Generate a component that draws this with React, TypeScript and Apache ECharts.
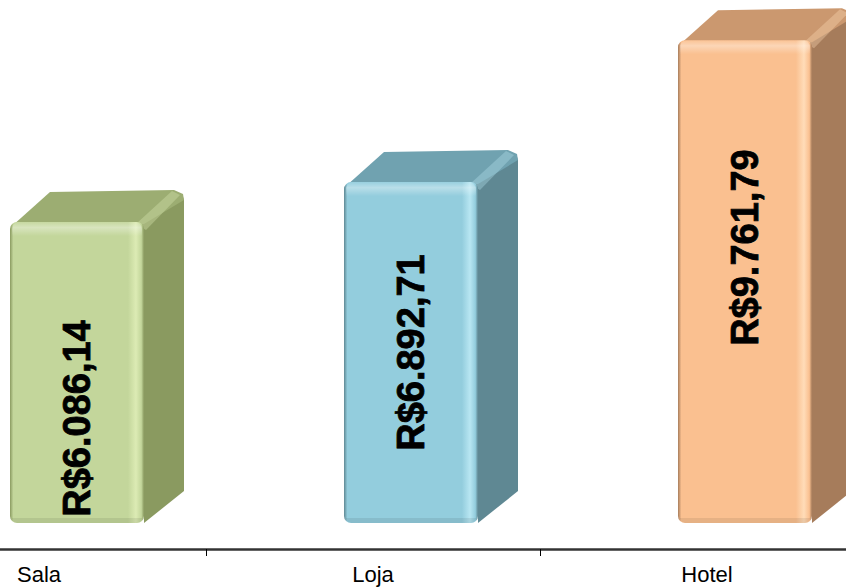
import React, { useEffect, useRef } from "react";
import * as echarts from "echarts";

// ---- data ----
const categories: string[] = ["Sala", "Loja", "Hotel"];
const values: number[] = [6086.14, 6892.71, 9761.79];

// ---- styles ----
const FRONT_COLORS = ["#c3d69b", "#93cddd", "#fac090"];
const TOP_COLORS = ["#9cad72", "#70a2b0", "#cb986f"];
const SIDE_COLORS = ["#8a9a60", "#5f8893", "#a67c5b"];
const EDGE_LIGHT = ["#dcebb4", "#b8e6f2", "#ffdcb8"];
const BAR_W = 134;
const BAR_SHIFT = 38;
const DEPTH_X = 40;
const DEPTH_Y = -32;
const LABEL_SHIFT_Y = [46, 0, -34];
const FONT = "'Liberation Sans', Arial, Helvetica, sans-serif";

function formatBRL(v: number): string {
  const fixed = v.toFixed(2);
  const [intPart, dec] = fixed.split(".");
  let out = "";
  for (let i = 0; i < intPart.length; i++) {
    const fromEnd = intPart.length - i;
    out += intPart[i];
    if (fromEnd > 1 && (fromEnd - 1) % 3 === 0) out += ".";
  }
  return "R$" + out + "," + dec;
}

export default function App() {
  const ref = useRef<HTMLDivElement>(null);

  useEffect(() => {
    if (!ref.current) return;
    const chart = echarts.init(ref.current, null, { renderer: "svg" });

    const renderItem = (params: any, api: any) => {
      const i = api.value(0);
      const v = api.value(1);
      const base = api.coord([i, 0]);
      const top = api.coord([i, v]);
      const cx = base[0] + BAR_SHIFT;
      const xl = cx - BAR_W / 2;
      const xr = cx + BAR_W / 2;
      const yT = top[1];
      const yB = base[1];
      const front = FRONT_COLORS[i];
      const topC = TOP_COLORS[i];
      const side = SIDE_COLORS[i];
      const light = EDGE_LIGHT[i];

      return {
        type: "group",
        children: [
          {
            type: "polygon",
            shape: {
              points: [
                [xr - 2, yT + 2],
                [xr + DEPTH_X - 2, yT + DEPTH_Y + 4],
                [xr + DEPTH_X, yT + DEPTH_Y + 10],
                [xr + DEPTH_X, yB + DEPTH_Y],
                [xr, yB],
              ],
            },
            style: { fill: side },
          },
          {
            type: "polygon",
            shape: {
              points: [
                [xl + 2, yT + 4],
                [xl + DEPTH_X, yT + DEPTH_Y + 2],
                [xr + DEPTH_X - 10, yT + DEPTH_Y],
                [xr + DEPTH_X - 1, yT + DEPTH_Y + 4],
                [xr + DEPTH_X, yT + DEPTH_Y + 10],
                [xr, yT + 2],
              ],
            },
            style: { fill: topC },
          },
          {
            type: "polygon",
            shape: {
              points: [
                [xr - 8, yT + 2],
                [xr + DEPTH_X - 12, yT + DEPTH_Y + 1],
                [xr + DEPTH_X - 4, yT + DEPTH_Y + 5],
                [xr + 2, yT + 8],
              ],
            },
            style: { fill: light, opacity: 0.35 },
          },
          {
            type: "rect",
            shape: { x: xl, y: yT, width: BAR_W, height: yB - yT, r: 7 },
            style: {
              fill: new echarts.graphic.LinearGradient(0, 0, 1, 0, [
                { offset: 0, color: side },
                { offset: 0.025, color: front },
                { offset: 0.88, color: front },
                { offset: 0.94, color: light },
                { offset: 0.98, color: front },
                { offset: 1, color: side },
              ]),
            },
          },
          {
            type: "rect",
            shape: { x: xl + 2, y: yT, width: BAR_W - 4, height: 14, r: [7, 7, 0, 0] },
            style: {
              fill: new echarts.graphic.LinearGradient(0, 0, 0, 1, [
                { offset: 0, color: "rgba(255,255,255,0.05)" },
                { offset: 0.4, color: "rgba(255,255,255,0.35)" },
                { offset: 1, color: "rgba(255,255,255,0)" },
              ]),
            },
          },
          {
            type: "rect",
            shape: { x: xl + 2, y: yB - 5, width: BAR_W - 4, height: 5, r: [0, 0, 6, 6] },
            style: { fill: "rgba(0,0,0,0.08)" },
          },
          {
            type: "text",
            x: cx,
            y: (yT + yB) / 2 + LABEL_SHIFT_Y[i],
            rotation: Math.PI / 2,
            style: {
              text: formatBRL(v),
              fill: "#000000",
              stroke: "#000000",
              lineWidth: 0.8,
              font: `bold 38px ${FONT}`,
              align: "center",
              verticalAlign: "middle",
            },
          },
        ],
      };
    };

    chart.setOption({
      animation: false,
      backgroundColor: "#ffffff",
      grid: {
        left: -128,
        right: -28,
        top: 28.4,
        bottom: 65,
        containLabel: false,
        outerBoundsMode: "none",
      },
      xAxis: {
        type: "category",
        data: categories,
        offset: 26,
        axisLine: { show: true, onZero: false, lineStyle: { color: "#333333", width: 2.5 } },
        axisTick: { show: true, length: 7, lineStyle: { color: "#000000", width: 1 } },
        axisLabel: {
          color: "#000000",
          fontFamily: FONT,
          fontSize: 22,
          margin: 14,
        },
        splitLine: { show: false },
      },
      yAxis: {
        type: "value",
        min: 0,
        max: 10000,
        show: false,
        splitLine: { show: false },
      },
      series: [
        {
          type: "custom",
          renderItem,
          data: values.map((v, i) => [i, v]),
          clip: false,
        },
      ],
    });

    return () => chart.dispose();
  }, []);

  return <div ref={ref} style={{ width: 846, height: 588, position: "fixed", left: 0, top: 0 }} />;
}
